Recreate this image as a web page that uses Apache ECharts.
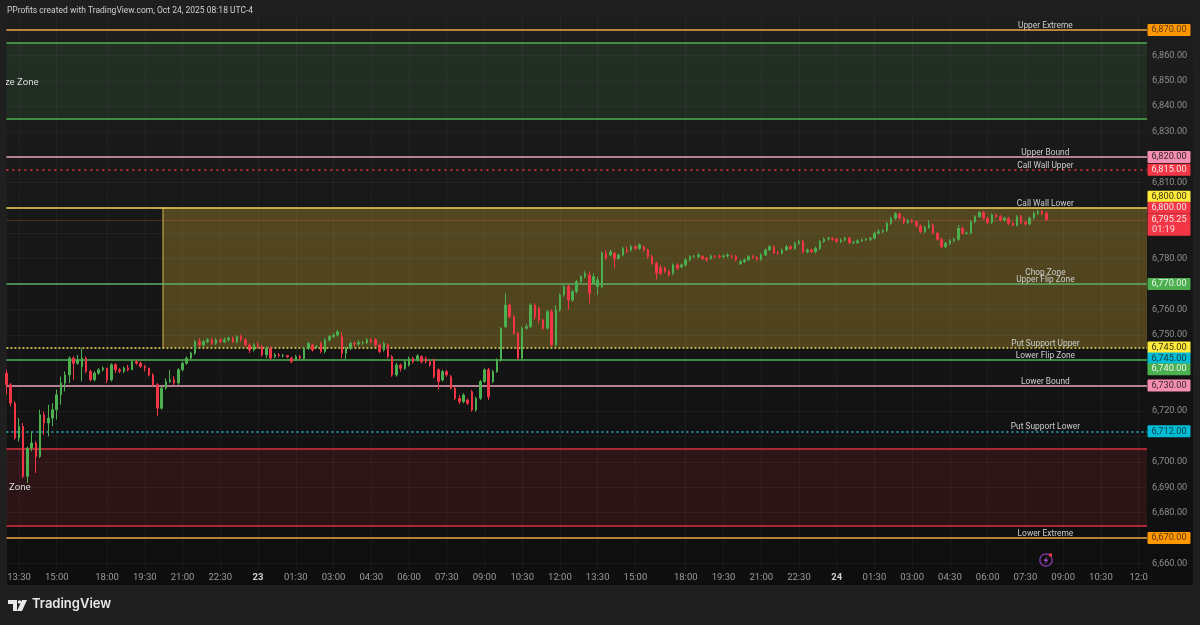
<!DOCTYPE html>
<html><head><meta charset="utf-8">
<style>html,body{margin:0;padding:0;background:#1f1f1f}#c{width:1200px;height:625px}</style>
<script src="https://cdn.jsdelivr.net/npm/echarts@6/dist/echarts.min.js"></script>
</head><body><div id="c"></div>
<script>
const opens=[6734.9,6730.3,6723.1,6709.4,6713.9,6694.3,6705.4,6707.4,6702.1,6718.5,6715.3,6717.2,6720.5,6726.4,6731,6734.2,6740.8,6738.8,6737.5,6740.8,6735.6,6732.3,6734.9,6736.2,6736.9,6732.3,6738.2,6736.2,6735.6,6736.9,6736.2,6739.5,6738.8,6737.5,6736.9,6734.2,6730.3,6721.1,6729,6731.6,6732.3,6731,6736.2,6738.8,6740.8,6742.8,
6747.3,6746,6747.3,6748,6746.7,6748,6747.3,6748,6748.7,6747.3,6749.3,6748,6746,6744,6746,6745.4,6742.1,6744.7,6741.4,6742.1,6741.8,6741.8,6740.8,6740.2,6741.4,
6740.7,6744.7,6746,6745.3,6746.6,6743.4,6748,6749.3,6749.9,6749.3,6742.7,6744.7,6746.6,6746.4,6746.9,6746.9,6748,6748,6746,6744,6746,6741.4,6734.2,6738.1,6736.8,6738.1,6740.7,6740.1,6741.4,6740.7,6739.4,6740.1,6736.2,6732.2,6735.5,6733.5,6729,6725,6723.7,6724.3,6727.6,6720.4,6725,6731.6,6736.2,6731.6,6735.5,6740.1,
6753.2,6761.7,6757.1,6750.6,6740.8,6752.6,6753.2,6761.7,6760.4,6755.8,6752.6,6759.1,6746,6759.8,6765.7,6769,6763.7,6767,6770.9,6772.9,6773.5,6770.3,6769,6769,6782.1,6781.4,6782.1,6780.1,6781.4,6783.4,6783.4,6784.7,6784,6784.7,6783.4,6780.8,6778.1,6776.2,6776.2,6774.9,6774.2,6777.5,6776.8,6777.5,6779.5,6780.8,6780.8,6780.8,6780.1,6780.1,6781,6781,6780.8,6781,6781,6780.8,
6778,6778.8,6779.5,6780.8,6780.5,6779.7,6781.4,6783.4,6784.7,6782.3,6782.1,6783.4,6784.7,6784,6786,6786.7,6782.7,6783.4,6782.7,6784,6786.7,6787.7,6788,6787.6,6786.7,6787.3,6788,6786.3,6786.3,6787,6787.3,6787.6,6788,6790,6790.6,6791,6793.9,6795.9,6797.6,6795.9,6794.2,6795,6794.5,6792.8,6790.6,6792.3,6793.2,6790,6787.6,6784.7,6786,6787,6787.6,6791.9,6790,6790,6794.5,6796.5,6798.1,6795.9,6794.2,6797.2,6796.5,6795.2,6795.9,6793.9,6793.2,6796.5,6794.2,6793.6,6795.9,6797.8,6798.5,6797.8];
const closes=[6730.3,6723.1,6709.4,6713.9,6694.3,6705.4,6707.4,6702.1,6718.5,6715.3,6717.2,6720.5,6726.4,6731,6734.2,6740.8,6738.8,6740.1,6740.8,6735.6,6732.3,6734.9,6736.2,6736.9,6732.3,6738.2,6736.2,6735.6,6736.9,6736.2,6739.5,6738.8,6737.5,6736.9,6734.2,6730.3,6721.1,6729,6731.6,6732.3,6731,6736.2,6738.8,6740.8,6742.8,6747.3,
6746,6747.3,6748,6746.7,6748,6747.3,6748,6748.7,6747.3,6749.3,6748,6746,6744,6746,6745.4,6742.1,6744.7,6740.8,6742.1,6741.8,6741.8,6741.4,6739.5,6741.4,6740.8,
6744.7,6746.6,6744,6745.3,6743.4,6748,6749.3,6749.9,6751.2,6742.7,6744.7,6746.6,6746.4,6746.9,6746.9,6748,6747.3,6746,6743.4,6746.6,6741.4,6734.2,6738.1,6736.8,6739.4,6740.7,6739.4,6741.7,6739.4,6739.4,6738.1,6733.5,6731.6,6735.5,6734.2,6729,6725,6723.7,6726.3,6723,6720.4,6725,6731.6,6736.2,6725.6,6735.5,6740.1,6752.5,
6761.7,6757.1,6750.6,6740.8,6752.6,6753.2,6761.7,6757.1,6755.8,6752.6,6759.1,6746,6759.8,6765.7,6769,6763.7,6767,6770.9,6772.9,6774.2,6766.3,6772.9,6771.6,6782.1,6780.1,6782.7,6780.1,6781.4,6784,6782.7,6784.7,6784,6785.4,6783.4,6780.8,6778.1,6774.2,6774.2,6774.9,6773.5,6777.5,6776.2,6777.5,6779.5,6780.8,6780.8,6781.4,6780.1,6779.5,6781,6780.8,6780.8,6781,6781.4,6780.8,6779.5,
6778.8,6779.5,6780.8,6780.5,6779.7,6781.4,6783.4,6784.7,6782.3,6782.1,6783.4,6784.7,6784,6786,6786.7,6782.7,6783.4,6782.7,6784,6786.7,6787.7,6788,6787.6,6786.7,6787.3,6788,6786.3,6786.3,6787,6787.3,6787.6,6788,6790,6790.6,6791,6793.9,6795.9,6797.6,6795.9,6794.2,6795,6794.5,6792.8,6790.6,6792.3,6793.2,6790,6787.6,6784.7,6786,6787,6787.6,6791.9,6790,6790,6794.5,6796.5,6798.1,6795.9,6794.2,6797.2,6796.5,6795.2,6795.9,6793.9,6793.2,6796.5,6794.2,6793.6,6795.9,6797.8,6798.5,6797.8,6795.25];
const highs=[6736.2,6731,6723.8,6717.2,6715.3,6706,6712,6708,6720.5,6719.8,6722.5,6723.1,6728.4,6733.6,6735.6,6741.5,6741.5,6742.1,6744.7,6741.5,6736.2,6735.6,6736.9,6737.5,6736.9,6738.8,6738.8,6736.9,6737.5,6738.2,6740.1,6740.1,6739.5,6738.2,6736.9,6734.9,6731,6729.7,6732.9,6736.2,6733.6,6736.9,6739.5,6741.5,6743.4,6748,
6748.7,6748,6748.7,6748.7,6748.7,6748.7,6749,6749.3,6749.3,6749.8,6750.2,6748.7,6746.7,6746.7,6747.3,6746,6745.4,6745.4,6742.8,6742.8,6742.5,6742.1,6741.4,6742.1,6742.1,
6745.3,6747.3,6746.6,6746,6747.3,6748.7,6750,6750.6,6751.9,6751,6745.3,6747.3,6747.3,6748,6747.6,6748.7,6748.7,6748.7,6746.6,6747.3,6746.6,6742,6739,6738.7,6740,6741.4,6741.4,6742.4,6742,6741.4,6740.1,6740.7,6736.8,6736.2,6736.2,6734.2,6729.6,6726.3,6727,6725,6728.3,6725.6,6732.2,6736.8,6737,6736.2,6740.7,6753,
6766.3,6762.4,6757.8,6751.2,6753.2,6754.2,6762.4,6762.4,6761,6756.4,6759.8,6760,6761.7,6766.3,6769.7,6769.7,6767.6,6771.6,6773.5,6775,6774.9,6774.2,6772.9,6782.7,6783.4,6783.4,6782.7,6782.1,6784.7,6784.7,6785.4,6785.4,6786,6785.4,6784,6781.4,6778.8,6777.5,6776.8,6775.5,6778.1,6778.1,6778.1,6780.1,6781.4,6781.4,6782.1,6781.4,6780.8,6781.6,6781.4,6781.6,6781.6,6782.1,6781.6,6781.4,
6779.5,6780.1,6781.4,6781.4,6781,6782.1,6784,6785.3,6785.3,6782.9,6784,6785.3,6785.3,6786.6,6787.3,6787.3,6784,6784,6784.7,6787.3,6788.3,6788.6,6788.3,6788.2,6788,6788.6,6788.6,6787,6787.6,6788,6788.2,6788.6,6790.6,6791.6,6791.6,6794.5,6796.5,6798.3,6798.1,6796.5,6795.6,6795.6,6795,6793.4,6792.9,6795,6793.8,6790.6,6788.2,6786.6,6787.6,6788.2,6793.2,6792.5,6790.6,6795.1,6797.1,6798.7,6798.7,6796.5,6797.8,6797.8,6797.1,6796.5,6796.5,6794.5,6797.1,6797.1,6794.8,6796.5,6798.5,6799.2,6799.2,6798.5];
const lows=[6726.4,6721.8,6708.7,6708,6693.6,6691.7,6704.1,6695.6,6701.5,6710.7,6710,6714,6716.6,6722.5,6727.7,6731,6732.3,6738.2,6731.6,6734.9,6731.6,6731.6,6734.2,6735.6,6731,6731.6,6734.9,6734.9,6734.9,6735.6,6736.2,6738.2,6736.9,6735.6,6733.6,6729.7,6717.9,6720.5,6728.4,6731,6730.3,6730.3,6735.6,6738.2,6740.1,6742.1,
6745.4,6745.4,6746.7,6746,6746,6746.7,6746.7,6747.3,6746.7,6746.7,6747.3,6745.4,6742.8,6743.4,6744.7,6741.4,6740.8,6740.2,6740.8,6741.1,6741.1,6740.8,6738.8,6739.8,6740.2,
6740.1,6744,6743.4,6744.7,6742.7,6742.7,6747.3,6748.7,6749.3,6740.7,6740.3,6744,6745.3,6745.7,6746,6746.3,6746.6,6745.3,6742.7,6743.4,6740.7,6733.5,6733.5,6735.5,6736.2,6737.5,6738.7,6739.4,6738.7,6738.7,6737.4,6732.8,6728.5,6731.6,6733.5,6728.5,6724.3,6722.7,6723,6722.4,6719.8,6719.8,6724.3,6731,6724.3,6730.9,6735,6739.4,
6752.6,6756.5,6750,6740.1,6740.2,6751.9,6752.6,6755.8,6754.5,6751.9,6752,6745.4,6745.4,6759.1,6765,6759.8,6763,6766.3,6770.3,6772.2,6762.4,6769.6,6765.7,6768.4,6779.5,6780.8,6776.2,6779.5,6780.8,6782.1,6782.7,6783.4,6783.4,6782.7,6780.1,6777.5,6771.8,6773.5,6774.2,6772.9,6773.5,6775.5,6776.2,6776.8,6778.8,6780.1,6780.1,6779.5,6778.8,6779.5,6780.1,6780.1,6780.1,6780.4,6780.1,6778.8,
6777.5,6778.2,6779,6779.8,6779.1,6779.1,6781,6783,6781.7,6781.4,6781.6,6783,6783.4,6783.4,6785.4,6782.1,6782.1,6782.1,6782.1,6783.4,6786.1,6787.1,6787,6786.1,6786.1,6786.7,6785.7,6785.7,6785.7,6786.5,6787,6787,6787.5,6789.5,6790,6790.5,6793.3,6795.3,6795.3,6793.6,6793.6,6793.9,6792.3,6790,6790,6791.7,6789.5,6787,6784.1,6784.1,6785.4,6786.4,6787,6789.4,6789.4,6789.5,6794,6796,6795.3,6793.6,6793.6,6795.9,6794.6,6794.6,6793.3,6792.6,6792.6,6793.6,6793,6793,6795.3,6797.2,6797,6795];

const tickIndex=[3,12,24,33,42,51,60,69,78,87,96,105,114,123,132,141,150,162,171,180,189,198,207,216,225,234,243,252,261,270];
const tickLabels=['13:30','15:00','18:00','19:30','21:00','22:30','23','01:30','03:00','04:30','06:00','07:30','09:00','10:30','12:00','13:30','15:00','18:00','19:30','21:00','22:30','24','01:30','03:00','04:30','06:00','07:30','09:00','10:30','12:0'];
const categories=[];for(let k=0;k<273;k++)categories.push(String(k));
const gridPrices=[6870,6860,6850,6840,6830,6820,6810,6800,6790,6780,6770,6760,6750,6740,6730,6720,6710,6700,6690,6680,6670,6660];
const axisPrices=[6860,6850,6840,6830,6810,6780,6760,6750,6720,6700,6690,6680,6660];
const levelPrices=[6870,6865,6835,6820,6815,6800,6770,6745,6740,6730,6712,6705,6675,6670];
const levelColors=['#f0a545','#4caf50','#4caf50','#e9a3bd','#f23645','#f5d35a','#5fae62','#f2e35a','#4caf50','#e9a3bd','#22b8cf','#d8323f','#d8323f','#f0a545'];
const levelDash=[null,null,null,null,[2,4],null,null,[2,2],null,null,[2,3],null,null,null];
const labelNames=['Upper Extreme','Upper Bound','Call Wall Upper','Call Wall Lower','Chop Zone','Upper Flip Zone','Put Support Upper','Lower Flip Zone','Lower Bound','Put Support Lower','Lower Extreme'];
const labelPrices=[6870,6820,6815,6800,6772.75,6770,6745,6740,6730,6712,6670];
const zoneNames=['ze Zone','Zone'];
const zonePrices=[6849.2,6690];
const zoneIndex=[0,1];
const tagPrices=[6870,6820,6815,6800,6800,6770,6745,6745,6740,6730,6712,6670];
const tagTexts=['6,870.00','6,820.00','6,815.00','6,800.00','6,800.00','6,770.00','6,745.00','6,745.00','6,740.00','6,730.00','6,712.00','6,670.00'];
const lastPrice=6795.25;

const tagFill=['#ff9800','#f48fb1','#f23645','#ffeb3b','#f23645','#4caf50','#ffeb3b','#00bcd4','#4caf50','#f48fb1','#00bcd4','#ff9800'];
const tagInk=['#5a3a12','#3a2530','#f6e6e8','#3a3510','#f6e6e8','#e8f5e8','#3a3510','#123a44','#e8f5e8','#3a2530','#123a44','#5a3a12'];
const tagShift=[0,0,0,-11,0,0,0,11,9,0,0,0];

const font='Roboto, "Liberation Sans", sans-serif';
const chart=echarts.init(document.getElementById('c'),null,{renderer:'canvas'});
const candles=opens.map((o,i)=>[o,closes[i],lows[i],highs[i]]);
const lm={};tickIndex.forEach((t,i)=>lm[t]=tickLabels[i]);
const none={symbol:['none','none'],silent:true,animation:false};

chart.setOption({
 animation:false,
 backgroundColor:'#1f1f1f',
 grid:{left:6.42,width:1140.6,top:17,height:552,containLabel:false},
 xAxis:{type:'category',data:categories,boundaryGap:false,
  axisLine:{show:false},axisTick:{show:false},
  axisLabel:{interval:(i)=>lm[i]!==undefined,margin:4,color:'#9a9a9a',fontSize:9.5,fontFamily:font,
   formatter:(v)=>{const t=lm[v];return (t==='23'||t==='24')?'{b|'+t+'}':t;},
   rich:{b:{fontWeight:'bold',color:'#d0d0d0',fontSize:9.5,fontFamily:font}}},
  splitLine:{show:true,interval:(i)=>lm[i]!==undefined,lineStyle:{color:'rgba(255,255,255,0.045)',width:1}}},
 yAxis:{type:'value',position:'right',min:6657.8,max:6875.1,scale:true,
  axisLine:{show:false},axisTick:{show:false},splitLine:{show:false},
  axisLabel:{customValues:axisPrices,margin:5,color:'#8e8e8e',fontSize:9.2,fontFamily:font,
   formatter:(v)=>v.toLocaleString('en-US',{minimumFractionDigits:2,maximumFractionDigits:2})}},
 graphic:[
  {type:'rect',z:-10,silent:true,shape:{x:7,y:17,width:1186,height:568},
   style:{fill:new echarts.graphic.LinearGradient(0,0,0,1,[{offset:0,color:'#1d1d1d'},{offset:1,color:'#0e0e0e'}])}},
  {type:'text',z:50,left:7,top:6,style:{text:'PProfits created with TradingView.com, Oct 24, 2025 08:18 UTC-4',fill:'#cfcfcf',font:'8.5px '+font}},
  {type:'text',z:50,left:32,top:598,style:{text:'TradingView',fill:'#e8e8e8',font:'600 13px Inter, Roboto, sans-serif'}},
  {type:'polygon',z:50,silent:true,shape:{points:[[8,600],[17,600],[17,611],[13,611],[13,604],[8,604]]},style:{fill:'#e8e8e8'}},
  {type:'circle',z:50,silent:true,shape:{cx:19.5,cy:602,r:1.8},style:{fill:'#e8e8e8'}},
  {type:'polygon',z:50,silent:true,shape:{points:[[22,600],[27,600],[22,611],[17,611]]},style:{fill:'#e8e8e8'}},
  {type:'circle',z:50,silent:true,shape:{cx:1046,cy:560,r:6.2},style:{fill:'none',stroke:'#8e3bb0',lineWidth:1.3}},
  {type:'polygon',z:50,silent:true,shape:{points:[[1047.5,556],[1043.5,561],[1046,561],[1044.5,564.5],[1048.5,559.5],[1046,559.5]]},style:{fill:'#a24fc9'}},
  {type:'circle',z:51,silent:true,shape:{cx:1050.5,cy:555,r:1.7},style:{fill:'#f23645'}}
 ],
 series:[
  {type:'custom',z:1,silent:true,clip:true,data:[[37,6800,272,6745]],
   renderItem:(params,api)=>{const a=api.coord([api.value(0),api.value(1)]);const b=api.coord([api.value(2),api.value(3)]);const x=a[0]+1.4;
    return {type:'group',children:[
     {type:'rect',shape:{x:x,y:a[1],width:b[0]-x,height:b[1]-a[1]},style:{fill:'rgba(255,213,60,0.25)'}},
     {type:'line',shape:{x1:x,y1:a[1],x2:x,y2:b[1]},style:{stroke:'#d9b84f',lineWidth:1}}]};}},
  {type:'line',data:[],z:1,silent:true,
   markArea:{silent:true,animation:false,data:[
     [{yAxis:6865,itemStyle:{color:'rgba(76,160,90,0.13)'}},{yAxis:6835}],
     [{yAxis:6705,itemStyle:{color:'rgba(242,54,69,0.13)'}},{yAxis:6675}]
   ]},
   markLine:Object.assign({},none,{label:{show:false},lineStyle:{color:'rgba(255,255,255,0.04)',width:1,type:'solid'},
     data:gridPrices.map(p=>({yAxis:p}))})},
  {type:'candlestick',data:candles,z:5,barWidth:2,
   itemStyle:{color:'#4caf50',color0:'#f23645',borderColor:'#4caf50',borderColor0:'#f23645',borderWidth:1}},
  {type:'line',data:[],z:8,silent:true,
   markLine:Object.assign({},none,{label:{show:false},
     data:levelPrices.map((p,i)=>({yAxis:p,lineStyle:{color:levelColors[i],type:levelDash[i]||'solid',width:1.5}}))
       .concat([{yAxis:lastPrice,lineStyle:{color:'rgba(242,90,70,0.55)',type:'dotted',width:1}}])})},
  {type:'custom',z:12,silent:true,clip:false,data:labelPrices.map((p,i)=>[248,p]),
   renderItem:(params,api)=>{const c=api.coord([api.value(0),api.value(1)]);
    return {type:'text',x:c[0]-1,y:c[1]-4,style:{text:labelNames[params.dataIndex],fill:'#cdcdcd',font:'8.4px '+font,textAlign:'center',textVerticalAlign:'middle'}};}},
  {type:'custom',z:12,silent:true,clip:true,data:zonePrices.map((p,i)=>[zoneIndex[i],p]),
   renderItem:(params,api)=>{const c=api.coord([api.value(0),api.value(1)]);
    return {type:'text',x:c[0]-1.5,y:c[1],style:{text:zoneNames[params.dataIndex],fill:'#dddddd',font:'9.6px '+font,textAlign:'left',textVerticalAlign:'middle'}};}},
  {type:'custom',z:20,silent:true,clip:false,data:tagPrices.map((p)=>[272,p]),
   renderItem:(params,api)=>{const i=params.dataIndex;const c=api.coord([api.value(0),api.value(1)]);const y=c[1]+tagShift[i];
    return {type:'group',children:[
     {type:'rect',shape:{x:1147.5,y:y-6,width:43,height:12,r:1},style:{fill:tagFill[i]}},
     {type:'text',x:1169,y:y,style:{text:tagTexts[i],fill:tagInk[i],font:'9.2px '+font,textAlign:'center',textVerticalAlign:'middle'}}]};}},
  {type:'custom',z:19,silent:true,clip:false,data:[[272,lastPrice]],
   renderItem:(params,api)=>{const c=api.coord([api.value(0),api.value(1)]);const y=c[1];
    return {type:'group',children:[
     {type:'rect',shape:{x:1147.5,y:y-6,width:43,height:22,r:1},style:{fill:'#f23645'}},
     {type:'text',x:1169,y:y-0.5,style:{text:'6,795.25',fill:'#f6e6e8',font:'9.2px '+font,textAlign:'center',textVerticalAlign:'middle'}},
     {type:'text',x:1152,y:y+9.5,style:{text:'01:19',fill:'#f6d6da',font:'9.2px '+font,textAlign:'left',textVerticalAlign:'middle'}}]};}}
 ]
});
</script></body></html>
